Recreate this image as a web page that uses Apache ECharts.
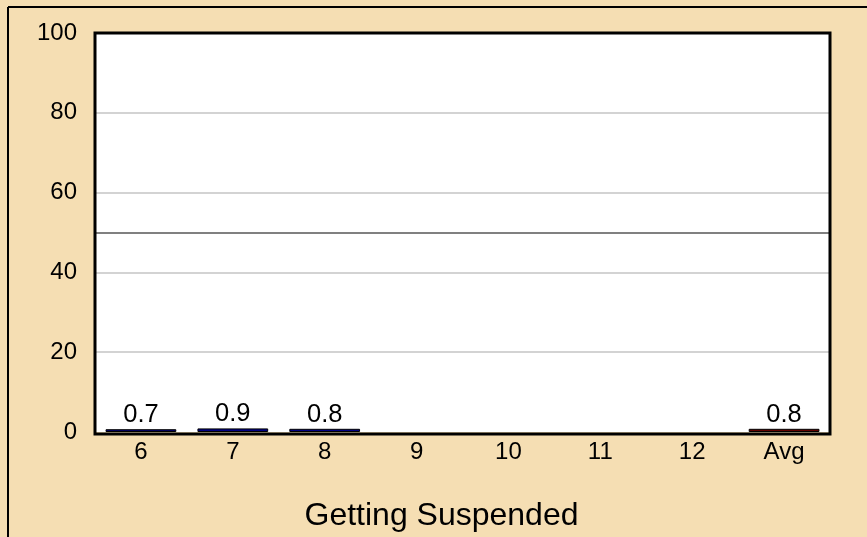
<!DOCTYPE html>
<html><head><meta charset="utf-8">
<script src="https://cdn.jsdelivr.net/npm/echarts@6/dist/echarts.min.js"></script>
<style>html,body{margin:0;padding:0;background:#F5DEB3;}#c{width:867px;height:537px;}</style>
</head><body><div id="c"></div>
<script>
var categories = ['6','7','8','9','10','11','12','Avg'];
var values = [0.7, 0.9, 0.8, null, null, null, null, 0.8];
var labels = ['0.7','0.9','0.8','','','','','0.8'];
var barColors = ['#000070','#000080','#000080','#000080','#000080','#000080','#000080','#600000'];
var yTicks = [0, 20, 40, 60, 80, 100];
var refValue = 50;
var xTitle = 'Getting Suspended';

var chart = echarts.init(document.getElementById('c'), null, {renderer:'canvas'});
chart.setOption({
  backgroundColor: '#F5DEB3',
  animation: false,
  grid: {left: 95, right: 37, top: 33, bottom: 103, show: true, borderWidth: 0, backgroundColor: '#fff', containLabel: false},
  xAxis: {
    type: 'category', data: categories,
    axisLine: {show: false}, axisTick: {show: false},
    axisLabel: {color: '#000', fontSize: 24, fontFamily: 'Liberation Sans', margin: 8},
    name: xTitle, nameLocation: 'middle', nameGap: 68,
    nameTextStyle: {color: '#000', fontSize: 32, fontFamily: 'Liberation Sans', padding: [0, 42, 0, 0]}
  },
  yAxis: {
    type: 'value', min: 0, max: 100, interval: 20,
    axisLine: {show: false}, axisTick: {show: false},
    axisLabel: {color: '#000', fontSize: 24, fontFamily: 'Liberation Sans', margin: 18},
    splitLine: {showMinLine: false, showMaxLine: false, lineStyle: {color: '#d3d3d3', width: 2}}
  },
  graphic: [
    {type: 'line', shape: {x1: 8, y1: 7, x2: 867, y2: 7}, style: {stroke: '#000', lineWidth: 2}},
    {type: 'line', shape: {x1: 8, y1: 7, x2: 8, y2: 537}, style: {stroke: '#000', lineWidth: 2}},
    {type: 'rect', z: 100, silent: true, shape: {x: 95, y: 33, width: 735, height: 401}, style: {fill: 'none', stroke: '#000', lineWidth: 3}}
  ],
  series: [{
    type: 'bar', barWidth: '77%',
    data: values.map(function(v, i){ return {value: v, itemStyle: {color: barColors[i], borderColor: '#000', borderWidth: 1}}; }),
    label: {show: true, position: 'top', distance: 1, color: '#000', fontSize: 25.5, fontFamily: 'Liberation Sans',
      formatter: function(p){ return labels[p.dataIndex]; }},
    markLine: {silent: true, symbol: 'none', label: {show: false},
      lineStyle: {color: '#808080', width: 2, type: 'solid'},
      data: [{yAxis: refValue}]}
  }]
});
</script></body></html>
